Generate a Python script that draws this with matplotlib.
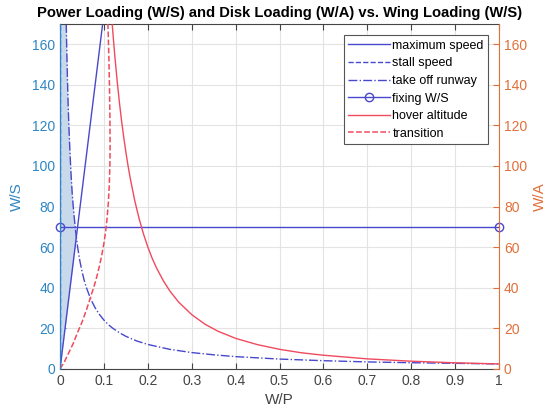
import matplotlib
matplotlib.use("Agg")
import matplotlib.pyplot as plt
import numpy as np

# values
# maximum speed (W/S vs W/P), straight line from the origin
maxspeed_x = [0.0, 0.097]
maxspeed_y = [0.0, 170.0]

# stall speed sits on the W/P = 0 edge
stall_x = [0.0, 0.0]
stall_y = [0.0, 170.0]

# take off runway
takeoff_x = [0.0141, 0.015, 0.016, 0.018, 0.02, 0.0225, 0.025, 0.0275, 0.03, 0.035,
             0.04, 0.045, 0.05, 0.055, 0.06, 0.07, 0.08, 0.09, 0.1, 0.11, 0.12,
             0.135, 0.15, 0.175, 0.2, 0.25, 0.3, 0.35, 0.4, 0.5, 0.6, 0.7, 0.8,
             0.9, 1.0]
takeoff_y = [170, 160, 150, 133, 120, 107, 96, 87, 80, 68.6,
             60, 53.3, 48, 43.6, 40, 34.3, 30, 26.7, 24, 21.8, 20,
             17.8, 16, 13.7, 12, 9.6, 8, 6.9, 6, 4.8, 4, 3.4, 3,
             2.7, 2.4]

# fixing W/S
fix_x = [0.0, 1.0]
fix_y = [70.0, 70.0]

# hover altitude (W/A, right axis)
hover_x = [0.119, 0.122, 0.125, 0.13, 0.135, 0.14, 0.145, 0.15, 0.155, 0.16, 0.17,
           0.18, 0.19, 0.2, 0.21, 0.22, 0.235, 0.25, 0.27, 0.3, 0.33, 0.36, 0.4,
           0.45, 0.5, 0.55, 0.6, 0.7, 0.8, 0.9, 1.0]
hover_y = [169.5, 161.2, 153.6, 142, 131.7, 122.4, 114.2, 106.7, 99.9, 93.8, 83.0,
           74.1, 66.5, 60, 54.4, 49.6, 43.5, 38.4, 32.9, 26.7, 22.0, 18.5, 15,
           11.9, 9.6, 7.9, 6.7, 4.9, 3.75, 2.96, 2.4]

# transition (W/A, right axis)
trans_x = [0.0, 0.01, 0.02, 0.03, 0.04, 0.05, 0.06, 0.069, 0.075, 0.08, 0.085,
           0.09, 0.095, 0.1, 0.104, 0.107, 0.110, 0.112, 0.1135, 0.114, 0.1135,
           0.1125, 0.111, 0.109]
trans_y = [0, 3.5, 8, 12.5, 18, 23, 29, 35, 39, 42.5, 46.5,
           51, 56, 62, 68, 74, 82, 90, 100, 110, 125,
           140, 155, 170]

x_ticks = [0, 0.1, 0.2, 0.3, 0.4, 0.5, 0.6, 0.7, 0.8, 0.9, 1]
x_ticklabels = ["0", "0.1", "0.2", "0.3", "0.4", "0.5", "0.6", "0.7", "0.8", "0.9", "1"]
y_ticks = [0, 20, 40, 60, 80, 100, 120, 140, 160]

blue_axis = "#2f86c4"
orange_axis = "#e0703a"
line_blue = "#4848cc"
line_red = "#f04a5e"

plt.rcParams["font.family"] = ["Liberation Sans", "DejaVu Sans"]

fig = plt.figure(figsize=(5.46, 4.13), dpi=100)
ax = fig.add_axes([0.110, 0.107, 0.804, 0.835])
ax2 = ax.twinx()

# feasible region shading
ys = np.linspace(0, 170, 400)
x_ms = np.interp(ys, maxspeed_y, maxspeed_x)
x_to = np.interp(ys, takeoff_y[::-1], takeoff_x[::-1], left=1.0)
ax.fill_betweenx(ys, 0, np.minimum(x_ms, x_to), color="#c9d9ec", lw=0, zorder=1)

h1, = ax.plot(maxspeed_x, maxspeed_y, "-", color=line_blue, lw=1, label="maximum speed")
h2, = ax.plot(stall_x, stall_y, "--", color=line_blue, lw=1, label="stall speed")
h3, = ax.plot(takeoff_x, takeoff_y, "-.", color=line_blue, lw=1, label="take off runway")
h4, = ax.plot(fix_x, fix_y, "-o", color=line_blue, lw=1, ms=6, mfc="none",
              clip_on=False, label="fixing W/S")
h5, = ax2.plot(hover_x, hover_y, "-", color=line_red, lw=1, label="hover altitude")
h6, = ax2.plot(trans_x, trans_y, "--", color=line_red, lw=1.1, label="transition")

for a in (ax, ax2):
    a.set_xlim(0, 1)
    a.set_ylim(0, 170)
    a.set_yticks(y_ticks)

ax.set_xticks(x_ticks)
ax.set_xticklabels(x_ticklabels)
ax.grid(True, color="#e3e3e3", lw=0.8)
ax.set_axisbelow(True)

ax.tick_params(axis="x", direction="in", top=True, colors="#444444", labelsize=10, length=4)
ax.tick_params(axis="y", direction="in", colors=blue_axis, labelsize=10, length=4)
ax2.tick_params(axis="y", direction="in", colors=orange_axis, labelsize=10, length=4)

for s in ("top", "bottom"):
    ax.spines[s].set_color("#444444")
    ax2.spines[s].set_visible(False)
ax.spines["left"].set_color(blue_axis)
ax2.spines["left"].set_color(blue_axis)
ax2.spines["right"].set_color(orange_axis)
ax.spines["right"].set_visible(False)

ax.set_xlabel("W/P", fontsize=11, color="#444444", labelpad=4)
ax.set_ylabel("W/S", fontsize=11, color=blue_axis, labelpad=6)
ax2.set_ylabel("W/A", fontsize=11, color=orange_axis, labelpad=4)
ax.set_title("Power Loading (W/S) and Disk Loading (W/A) vs. Wing Loading (W/S)",
             fontsize=10.6, fontweight="bold", pad=5)

leg = ax2.legend(handles=[h1, h2, h3, h4, h5, h6], loc="upper right",
                 bbox_to_anchor=(0.975, 0.967), fontsize=9, fancybox=False,
                 framealpha=1, edgecolor="#555555", handlelength=3.4,
                 handletextpad=0.15, borderpad=0.35, labelspacing=0.45,
                 borderaxespad=0)
leg.get_frame().set_linewidth(0.8)

fig.savefig("out.png", dpi=100)
